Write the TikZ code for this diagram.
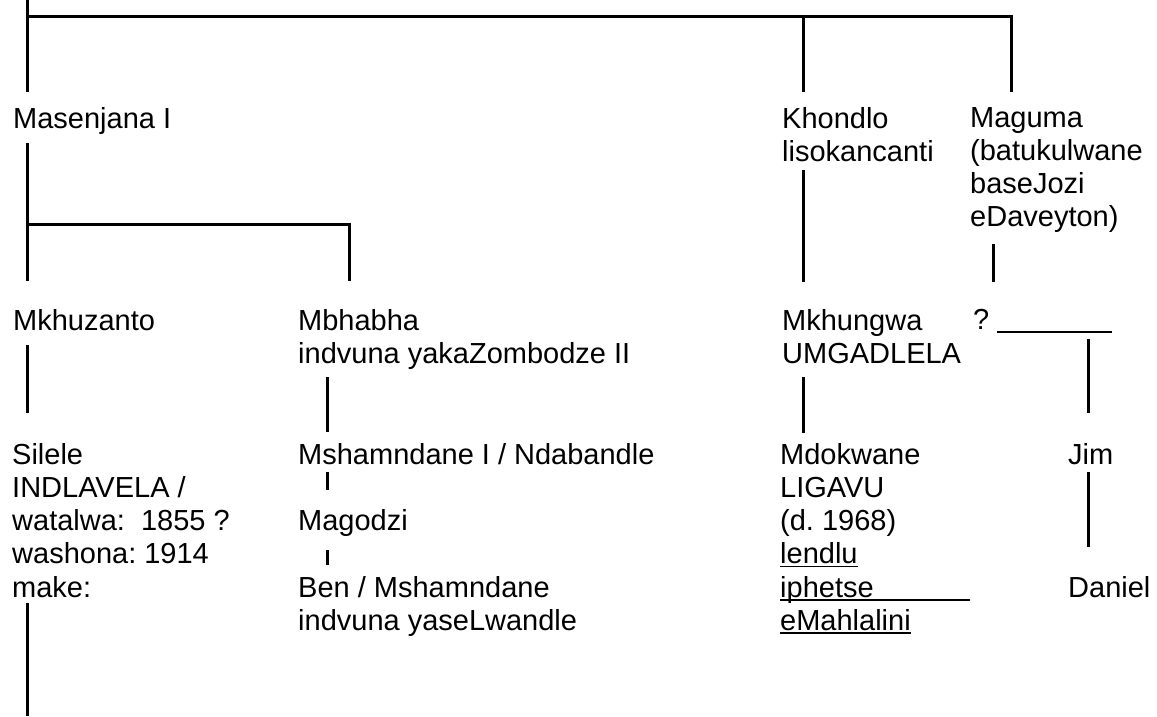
\documentclass[tikz,border=0pt]{standalone}
\usepackage{fontspec}
\setmainfont{Liberation Sans}
\usetikzlibrary{calc}
\frenchspacing

% underlined word, optional extra length of the rule
\newcommand{\ulword}[2][0pt]{\setbox0\hbox{#2}\rlap{\rule[-3.5pt]{\dimexpr\wd0+#1\relax}{1.6pt}}\box0}

\begin{document}
\begin{tikzpicture}[
  x=1pt, y=-1pt,
  person/.style={anchor=north west, align=left, inner sep=0pt,
                 font=\fontsize{29}{33.2}\selectfont},
  link/.style={line width=3pt},
]
\useasboundingbox (0,0) rectangle (1157,716);

%% ---------- generation 1 ----------
\node[person] (masen) at (13,107) {Masenjana I};
\node[person] (khond) at (782,107) {Khondlo\\lisokancanti};
\node[person] (magum) at (970,107) {Maguma\\(batukulwane\\baseJozi\\eDaveyton)};

%% ---------- generation 2 ----------
\node[person] (mkhuz) at (13,309) {Mkhuzanto};
\node[person] (mbhab) at (298,309) {Mbhabha\\indvuna yakaZombodze II};
\node[person] (mkhun) at (782,309) {Mkhungwa\\UMGADLELA};
\node[person] (unkn) at (973,309) {? \rule[-3.5pt]{115pt}{1.6pt}};

%% ---------- generation 3 ----------
\node[person] (silel) at (12,443)
  {Silele\\INDLAVELA /\\watalwa:\ \ 1855 ?\\washona: 1914\\make:};
\node[person] (msham) at (298,443) {Mshamndane I / Ndabandle};
\node[person] (magod) at (298,509) {Magodzi};
\node[person] (ben) at (298,576) {Ben / Mshamndane\\indvuna yaseLwandle};
\node[person] (mdokw) at (780,443)
  {Mdokwane\\LIGAVU\\(d. 1968)\\\ulword{lendlu}\\\ulword[96pt]{iphetse}\\\ulword{eMahlalini}};
\node[person] (jim) at (1068,443) {Jim};
\node[person] (dan) at (1068,576) {Daniel};

%% ancestor bar
\coordinate (crown) at (27,0);
\coordinate (bar) at (27,16);
\draw[link] (crown) -- ([shift={(14,-15)}]masen.north west);
\draw[link] (bar) -| ([shift={(41,-15)}]magum.north west);
\draw[link] ([shift={(21,0)}]khond.north west |- bar) -- ([shift={(21,-15)}]khond.north west);

%% Masenjana's sons
\coordinate (fork) at ([shift={(14,117)}]masen.north west);
\draw[link] ([shift={(14,36)}]masen.north west) -- ([shift={(14,-28)}]mkhuz.north west);
\draw[link] (fork) -| ([shift={(51,-28)}]mbhab.north west);

%% down the lines
\draw[link] ([shift={(21,63)}]khond.north west) -- ([shift={(21,-27)}]mkhun.north west);
\draw[link] ([shift={(23,137)}]magum.north west) -- ([shift={(20,-27)}]unkn.north west);
\draw[link] ([shift={(14,36)}]mkhuz.north west) -- ([shift={(15,-30)}]silel.north west);
\draw[link] ([shift={(29,68)}]mbhab.north west) -- ([shift={(29,-11)}]msham.north west);
\draw[link] ([shift={(21,68)}]mkhun.north west) -- ([shift={(23,-10)}]mdokw.north west);
\draw[link] ([shift={(115,30)}]unkn.north west) -- ([shift={(20,-30)}]jim.north west);

%% Mbhabha's line
\draw[link] ([shift={(29,29)}]msham.north west) -- ([shift={(29,-19)}]magod.north west);
\draw[link] ([shift={(29,41)}]magod.north west) -- ([shift={(29,-11)}]ben.north west);

%% Jim and Silele
\draw[link] ([shift={(20,29)}]jim.north west) -- ([shift={(20,-29)}]dan.north west);
\coordinate (foot) at ([shift={(15,273)}]silel.north west);
\draw[link] ([shift={(15,160)}]silel.north west) -- (foot);
\end{tikzpicture}
\end{document}
